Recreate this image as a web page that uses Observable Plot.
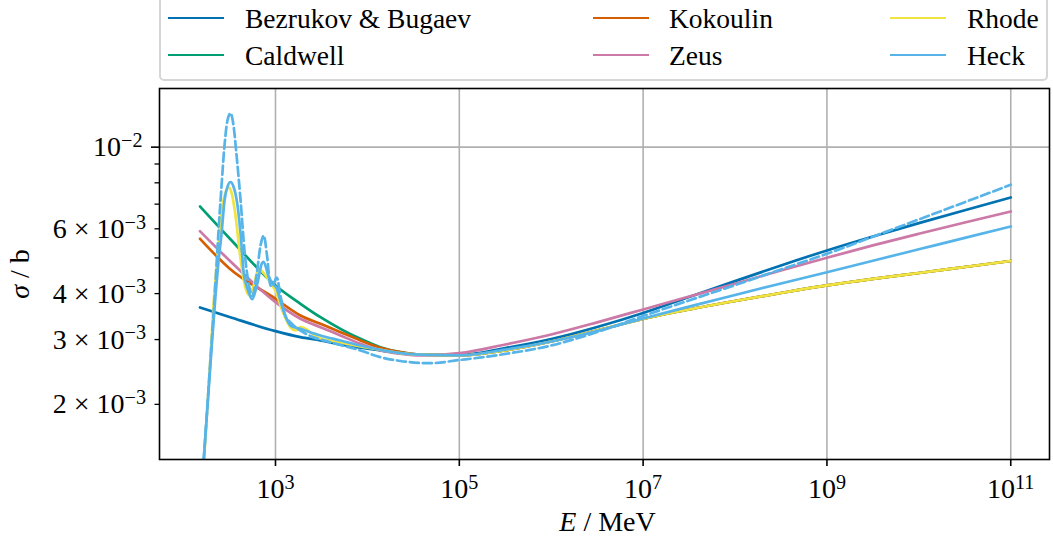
<!DOCTYPE html>
<html><head><meta charset="utf-8">
<script src="https://cdn.jsdelivr.net/npm/d3@7"></script>
<script src="https://cdn.jsdelivr.net/npm/@observablehq/plot@0.6"></script>
<style>
body{margin:0;background:#fff;}
#wrap{position:relative;width:1053px;height:545px;font-family:"Liberation Serif",serif;overflow:hidden;}
#legend{position:relative;height:84px;}
#legbox{position:absolute;left:159px;top:-6px;width:889px;height:87px;border:2px solid #d6d6d6;border-radius:5px;box-sizing:border-box;}
.swatch{position:absolute;width:56px;height:0;border-top:2.8px solid;}
.lab{position:absolute;font-size:27.5px;line-height:27.5px;white-space:nowrap;color:#000;}
#chart svg{display:block;}
</style></head>
<body><div id="wrap"><div id="legend"><div id="legbox"></div></div><div id="chart"></div></div>
<script>
// ---------- data ----------
const seriesNames  = ["Bezrukov & Bugaev", "Caldwell", "Kokoulin", "Zeus", "Rhode", "Heck"];
const seriesColors = ["#0072B2", "#009E73", "#D55E00", "#CC79A7", "#F0E442", "#56B4E9"];

const eSmooth = [151, 316, 1000, 1869, 3084, 5092, 8395, 13840, 22840, 37670, 1e5, 3.162e5, 1e6, 3.162e6, 1e7, 3.162e7, 1e8, 3.162e8, 1e9, 3.162e9, 1e10, 3.162e10, 1e11];
const sigmaBezrukov = [3.667e-3, 3.456e-3, 3.162e-3, 3.045e-3, 2.983e-3, 2.909e-3, 2.850e-3, 2.803e-3, 2.756e-3, 2.729e-3, 2.724e-3, 2.846e-3, 3.011e-3, 3.246e-3, 3.543e-3, 3.916e-3, 4.324e-3, 4.771e-3, 5.239e-3, 5.718e-3, 6.216e-3, 6.741e-3, 7.301e-3];
const sigmaCaldwell = [6.900e-3, 5.657e-3, 4.210e-3, 3.753e-3, 3.451e-3, 3.209e-3, 3.014e-3, 2.861e-3, 2.773e-3, 2.729e-3, 2.716e-3, 2.803e-3, 2.965e-3, 3.176e-3, 3.413e-3, 3.622e-3, 3.820e-3, 4.016e-3, 4.210e-3, 4.385e-3, 4.551e-3, 4.725e-3, 4.906e-3];
const sigmaKokoulin = [5.636e-3, 4.682e-3, 3.873e-3, 3.488e-3, 3.311e-3, 3.142e-3, 2.983e-3, 2.850e-3, 2.773e-3, 2.729e-3, 2.716e-3, 2.803e-3, 2.965e-3, 3.176e-3, 3.413e-3, 3.622e-3, 3.820e-3, 4.016e-3, 4.210e-3, 4.385e-3, 4.551e-3, 4.725e-3, 4.906e-3];
const sigmaZeus     = [5.910e-3, 4.921e-3, 3.792e-3, 3.417e-3, 3.242e-3, 3.078e-3, 2.922e-3, 2.803e-3, 2.746e-3, 2.716e-3, 2.756e-3, 2.909e-3, 3.097e-3, 3.341e-3, 3.622e-3, 3.929e-3, 4.253e-3, 4.624e-3, 5.006e-3, 5.407e-3, 5.816e-3, 6.243e-3, 6.687e-3];

const eRhode = [151, 169, 192, 217, 240, 265, 286, 308, 332, 367, 406, 449, 513, 577, 658, 741, 883, 1000, 1191, 1456, 1649, 1869, 2119, 2840, 5092, 8395, 13840, 22840, 37670, 1e5, 3.162e5, 1e6, 3.162e6, 1e7, 3.162e7, 1e8, 3.162e8, 1e9, 3.162e9, 1e10, 3.162e10, 1e11];
const sigmaRhode = [1.05e-3, 1.486e-3, 2.458e-3, 4.067e-3, 5.398e-3, 6.943e-3, 7.534e-3, 7.773e-3, 7.534e-3, 6.52e-3, 5.23e-3, 4.386e-3, 3.966e-3, 4.197e-3, 4.67e-3, 4.554e-3, 4.279e-3, 4.067e-3, 3.585e-3, 3.236e-3, 3.176e-3, 3.246e-3, 3.21e-3, 3.045e-3, 2.946e-3, 2.873e-3, 2.815e-3, 2.756e-3, 2.729e-3, 2.716e-3, 2.803e-3, 2.965e-3, 3.176e-3, 3.413e-3, 3.622e-3, 3.820e-3, 4.016e-3, 4.210e-3, 4.385e-3, 4.551e-3, 4.725e-3, 4.906e-3];

const eHeck = [151, 166, 197, 223, 240, 259, 279, 301, 324, 349, 384, 417, 452, 492, 558, 632, 716, 741, 839, 927, 1026, 1133, 1284, 1456, 1869, 3084, 5092, 8395, 13840, 22840, 37670, 1e5, 3.162e5, 1e6, 3.162e6, 1e7, 3.162e7, 1e8, 3.162e8, 1e9, 3.162e9, 1e10, 3.162e10, 1e11];
const sigmaHeck = [1.02e-3, 1.425e-3, 2.618e-3, 3.983e-3, 4.912e-3, 5.82e-3, 7.165e-3, 7.82e-3, 8.04e-3, 7.82e-3, 7.018e-3, 5.82e-3, 4.525e-3, 4.152e-3, 3.861e-3, 4.242e-3, 4.85e-3, 4.88e-3, 4.469e-3, 4.25e-3, 4.145e-3, 3.819e-3, 3.475e-3, 3.276e-3, 3.209e-3, 3.078e-3, 2.983e-3, 2.891e-3, 2.815e-3, 2.756e-3, 2.729e-3, 2.716e-3, 2.817e-3, 2.965e-3, 3.166e-3, 3.423e-3, 3.686e-3, 3.966e-3, 4.261e-3, 4.573e-3, 4.914e-3, 5.278e-3, 5.669e-3, 6.088e-3];

const eHeckDashed = [151, 166, 197, 223, 240, 259, 279, 301, 324, 349, 377, 417, 460, 509, 558, 621, 687, 746, 809, 883, 951, 1033, 1133, 1284, 1456, 2213, 3962, 8395, 13840, 22840, 48980, 1e5, 1.824e5, 3.162e5, 1e6, 3.162e6, 1e7, 3.162e7, 1e8, 3.162e8, 1e9, 3.162e9, 1e10, 3.162e10, 1e11];
const sigmaHeckDashed = [1.02e-3, 1.425e-3, 2.70e-3, 4.331e-3, 5.931e-3, 7.87e-3, 1.013e-2, 1.185e-2, 1.236e-2, 1.148e-2, 9.51e-3, 7.165e-3, 5.23e-3, 4.277e-3, 3.941e-3, 4.469e-3, 5.398e-3, 5.749e-3, 5.068e-3, 4.197e-3, 4.25e-3, 4.422e-3, 3.941e-3, 3.475e-3, 3.341e-3, 3.097e-3, 2.951e-3, 2.803e-3, 2.687e-3, 2.624e-3, 2.588e-3, 2.640e-3, 2.687e-3, 2.742e-3, 2.891e-3, 3.146e-3, 3.477e-3, 3.833e-3, 4.218e-3, 4.653e-3, 5.131e-3, 5.711e-3, 6.361e-3, 7.088e-3, 7.903e-3];

const xTicks = [1e3, 1e5, 1e7, 1e9, 1e11];
const xTickLabels = ["10^3", "10^5", "10^7", "10^9", "10^11"];
const yMajorTicks = [1e-2];
const yMajorLabels = ["10^−2"];
const yMinorLabeledTicks = [2e-3, 3e-3, 4e-3, 6e-3];
const yMinorLabels = ["2 × 10^−3", "3 × 10^−3", "4 × 10^−3", "6 × 10^−3"];
const yMinorTicks = [5e-3, 7e-3, 8e-3, 9e-3];
const xLabel = "E / MeV";
const yLabel = "σ / b";

// ---------- build ----------
const curves = [
  {color: seriesColors[0], E: eSmooth, S: sigmaBezrukov, dash: null},
  {color: seriesColors[1], E: eSmooth, S: sigmaCaldwell, dash: null},
  {color: seriesColors[2], E: eSmooth, S: sigmaKokoulin, dash: null},
  {color: seriesColors[3], E: eSmooth, S: sigmaZeus, dash: null},
  {color: seriesColors[4], E: eRhode, S: sigmaRhode, dash: null},
  {color: seriesColors[5], E: eHeck, S: sigmaHeck, dash: null},
  {color: seriesColors[5], E: eHeckDashed, S: sigmaHeckDashed, dash: "9,4"}
];

const lineMarks = curves.map(c => Plot.line(c.E.map((e, i) => ({E: e, sigma: c.S[i]})), {
  x: "E", y: "sigma", stroke: c.color, strokeWidth: 2.7, curve: "monotone-x",
  strokeDasharray: c.dash, clip: true
}));

const fmt = (ticks, labels) => d => labels[ticks.indexOf(d)];

const svg = Plot.plot({
  width: 1053, height: 461,
  marginTop: 4, marginBottom: 86, marginLeft: 159, marginRight: 4,
  x: {type: "log", domain: [54.7, 2.64e11]},
  y: {type: "log", domain: [1.4166e-3, 1.4434e-2]},
  style: {fontFamily: "'Liberation Serif', serif", fontSize: "28px", color: "black", background: "white"},
  marks: [
    Plot.gridX(xTicks, {stroke: "#b0b0b0", strokeOpacity: 1, strokeWidth: 1.6}),
    Plot.gridY(yMajorTicks, {stroke: "#b0b0b0", strokeOpacity: 1, strokeWidth: 1.6}),
    ...lineMarks,
    Plot.frame({stroke: "black", strokeWidth: 1.6}),
    Plot.axisX(xTicks, {tickSize: 7, tickPadding: 12, strokeWidth: 1.6, tickFormat: fmt(xTicks, xTickLabels), label: null, fontSize: 28}),
    Plot.axisY(yMajorTicks, {tickSize: 8, tickPadding: 9, strokeWidth: 1.6, tickFormat: fmt(yMajorTicks, yMajorLabels), label: null, fontSize: 28}),
    Plot.axisY(yMinorLabeledTicks, {tickSize: 4.5, tickPadding: 9, strokeWidth: 1.3, tickFormat: fmt(yMinorLabeledTicks, yMinorLabels), label: null, fontSize: 28}),
    Plot.axisY(yMinorTicks, {tickSize: 4.5, strokeWidth: 1.3, tickFormat: () => "", label: null}),
    Plot.text([xLabel], {text: d => d, frameAnchor: "bottom", dy: 63, dx: 3, fontSize: 28, textAnchor: "middle", lineAnchor: "middle"}),
    Plot.text([yLabel], {text: d => d, frameAnchor: "left", dx: -139, rotate: -90, fontSize: 28, textAnchor: "middle", lineAnchor: "middle"})
  ]
});
document.getElementById("chart").appendChild(svg);

// superscripts in tick labels
function supText(el) {
  const str = el.textContent;
  const parts = str.split("^");
  const t = d3.select(el);
  t.selectAll("*").remove();
  t.text(null);
  t.append("tspan").text(parts[0]);
  if (parts.length > 1) t.append("tspan").attr("dy", "-0.45em").attr("font-size", "0.72em").text(parts[1]);
}
d3.select(svg).selectAll('g[aria-label="x-axis tick label"] text, g[aria-label="y-axis tick label"] text').each(function() { supText(this); });

// italic symbols in axis labels
d3.select(svg).selectAll("text").each(function() {
  const s = this.textContent;
  if (s === xLabel || s === yLabel) {
    const t = d3.select(this);
    t.selectAll("*").remove();
    t.text(null);
    t.append("tspan").attr("font-style", "italic").text(s.slice(0, 1));
    t.append("tspan").text(s.slice(1));
  }
});

// legend
const legend = document.getElementById("legend");
const colSwatchX = [168, 593, 890];
const colTextX = [245, 669, 967];
const rowY = [19, 56];
seriesNames.forEach((name, i) => {
  const col = Math.floor(i / 2), row = i % 2;
  const sw = document.createElement("div");
  sw.className = "swatch";
  sw.style.left = colSwatchX[col] + "px";
  sw.style.top = (rowY[row] - 2) + "px";
  sw.style.borderTopColor = seriesColors[i];
  legend.appendChild(sw);
  const lb = document.createElement("div");
  lb.className = "lab";
  lb.style.left = colTextX[col] + "px";
  lb.style.top = (rowY[row] - 14) + "px";
  lb.textContent = name;
  legend.appendChild(lb);
});
</script>
</body></html>
